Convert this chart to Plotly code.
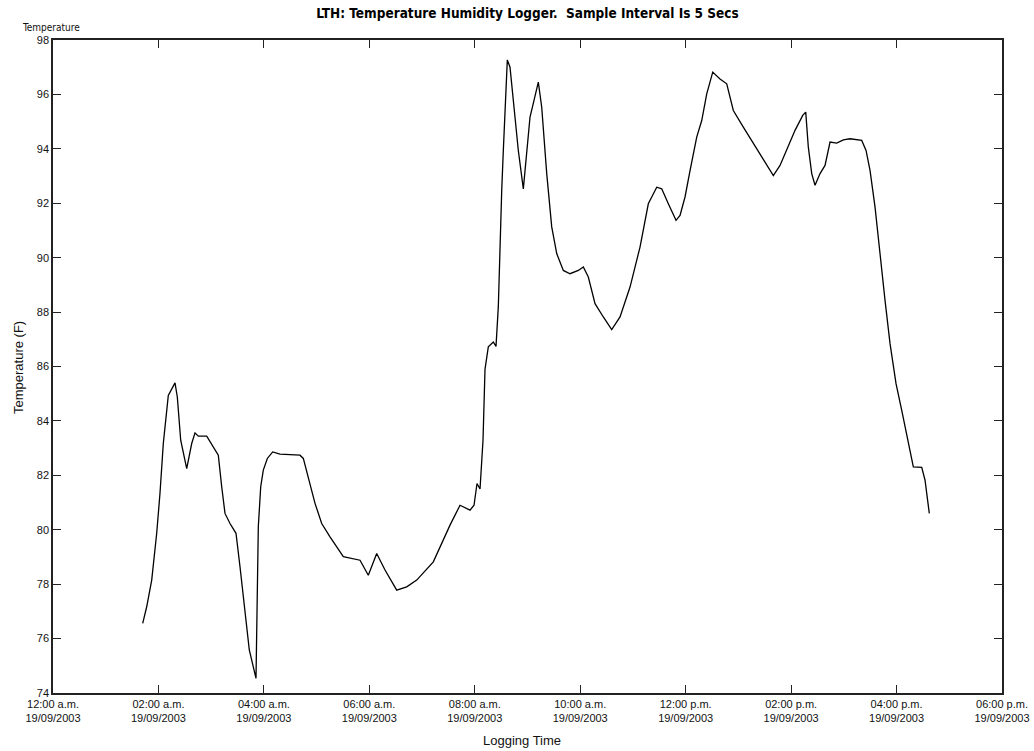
import plotly.graph_objects as go

# Logger readings for 19/09/2003
log_date = "2003-09-19"
log_times = [
    "01:42:05", "01:46:38", "01:52:20", "01:58:01", "02:01:47", "02:05:32", "02:11:13", "02:15:05",
    "02:18:51", "02:21:28", "02:25:20", "02:32:10", "02:37:51", "02:41:37", "02:45:22", "02:54:56",
    "03:02:26", "03:08:08", "03:12:00", "03:15:45", "03:21:27", "03:28:16", "03:32:49", "03:38:31",
    "03:43:24", "03:51:02", "03:52:10", "03:53:39", "03:56:23", "03:59:20", "04:03:54", "04:10:02",
    "04:18:21", "04:41:06", "04:44:52", "04:52:29", "04:58:11", "05:05:48", "05:15:15", "05:30:23",
    "05:49:24", "05:58:50", "06:08:24", "06:17:51", "06:31:10", "06:42:32", "06:53:55", "07:12:49",
    "07:31:49", "07:43:12", "07:54:35", "07:59:08", "08:02:33", "08:05:58", "08:09:23", "08:11:39",
    "08:15:24", "08:21:06", "08:24:10", "08:26:47", "08:28:43", "08:30:40", "08:32:29", "08:34:25",
    "08:37:02", "08:40:06", "08:43:52", "08:49:33", "08:55:15", "08:59:07", "09:02:52", "09:07:25",
    "09:12:19", "09:16:11", "09:21:53", "09:27:34", "09:33:15", "09:40:46", "09:48:24", "09:57:50",
    "10:03:32", "10:09:13", "10:16:51", "10:26:18", "10:35:51", "10:45:18", "10:56:41", "11:08:03",
    "11:17:30", "11:27:04", "11:32:45", "11:40:16", "11:49:02", "11:53:35", "11:59:16", "12:04:58",
    "12:12:35", "12:18:17", "12:23:58", "12:30:48", "12:39:06", "12:46:44", "12:54:14", "13:05:37",
    "13:15:11", "13:24:38", "13:34:04", "13:39:46", "13:47:23", "13:55:01", "14:04:28", "14:13:13",
    "14:16:38", "14:19:36", "14:23:28", "14:27:13", "14:32:55", "14:38:36", "14:44:18", "14:51:55",
    "14:59:26", "15:07:03", "15:14:41", "15:20:22", "15:25:16", "15:29:49", "15:35:31", "15:41:12",
    "15:46:53", "15:52:35", "15:59:24", "16:05:54", "16:13:25", "16:19:06", "16:28:39", "16:32:25",
    "16:37:17",
]
temperature_f = [
    76.56, 77.17, 78.15, 79.87, 81.35, 83.17, 84.94, 85.19,
    85.40, 84.88, 83.29, 82.25, 83.17, 83.56, 83.44, 83.44,
    83.05, 82.74, 81.58, 80.60, 80.23, 79.87, 78.64, 76.93,
    75.58, 74.54, 76.44, 80.11, 81.58, 82.19, 82.62, 82.86,
    82.78, 82.74, 82.62, 81.70, 80.97, 80.23, 79.74, 79.01,
    78.88, 78.33, 79.13, 78.52, 77.78, 77.90, 78.15, 78.82,
    80.17, 80.90, 80.72, 80.90, 81.70, 81.50, 83.30, 85.90,
    86.72, 86.90, 86.74, 88.19, 90.64, 92.47, 93.94, 95.53,
    97.27, 97.00, 95.78, 93.94, 92.53, 93.94, 95.17, 95.78,
    96.45, 95.53, 93.09, 91.13, 90.15, 89.53, 89.41, 89.53,
    89.66, 89.29, 88.31, 87.82, 87.36, 87.82, 88.92, 90.39,
    91.98, 92.59, 92.53, 91.98, 91.37, 91.55, 92.23, 93.20,
    94.43, 95.04, 96.02, 96.82, 96.57, 96.39, 95.41, 94.80,
    94.31, 93.82, 93.33, 93.02, 93.39, 93.94, 94.68, 95.23,
    95.35, 94.06, 93.09, 92.66, 93.09, 93.39, 94.25, 94.21,
    94.33, 94.37, 94.33, 94.31, 93.94, 93.21, 91.86, 90.02,
    88.43, 86.84, 85.37, 84.39, 83.17, 82.31, 82.29, 81.82,
    80.60,
]

# Axis ticks
x_tick_hours = ["00:00", "02:00", "04:00", "06:00", "08:00", "10:00", "12:00", "14:00", "16:00", "18:00"]
x_tick_labels = ["12:00 a.m.", "02:00 a.m.", "04:00 a.m.", "06:00 a.m.", "08:00 a.m.",
                 "10:00 a.m.", "12:00 p.m.", "02:00 p.m.", "04:00 p.m.", "06:00 p.m."]
tick_date_label = "19/09/2003"
y_ticks = [74, 76, 78, 80, 82, 84, 86, 88, 90, 92, 94, 96, 98]

x_values = [f"{log_date} {t}" for t in log_times]
x_tickvals = [f"{log_date} {t}:00" for t in x_tick_hours]
x_ticktext = [f"{lbl}<br>{tick_date_label}" for lbl in x_tick_labels]

label_font = "Liberation Sans, Arial, sans-serif"
narrow_font = "Liberation Sans Narrow, DejaVu Sans Condensed, Arial Narrow, sans-serif"

fig = go.Figure()
fig.add_trace(go.Scatter(
    x=x_values, y=temperature_f, mode="lines",
    line=dict(color="#000000", width=1.3),
    hoverinfo="x+y", showlegend=False,
))

axis_common = dict(
    showgrid=False, zeroline=False, automargin=False,
    showline=True, linecolor="#222222", linewidth=1.5,
    mirror="ticks", ticks="inside", ticklen=8, tickwidth=1, tickcolor="#222222",
)

fig.update_layout(
    width=1034, height=751,
    margin=dict(l=53, r=32, t=40, b=58),
    paper_bgcolor="white", plot_bgcolor="white",
    font=dict(family=label_font, size=11, color="#111111"),
    title=dict(
        text="<b>LTH: Temperature Humidity Logger.  Sample Interval Is 5 Secs</b>",
        font=dict(family=narrow_font, size=13.5, color="#000000"),
        x=0.5, xref="paper", xanchor="center",
        y=1 - 13 / 751, yref="container", yanchor="middle",
    ),
    xaxis=dict(
        **axis_common,
        type="date",
        range=[f"{log_date} 00:00:00", f"{log_date} 18:00:00"],
        tickmode="array", tickvals=x_tickvals, ticktext=x_ticktext,
        tickfont=dict(family=label_font, size=11, color="#111111"),
    ),
    yaxis=dict(
        **axis_common,
        range=[74, 98],
        tickmode="array", tickvals=y_ticks,
        tickfont=dict(family=label_font, size=11, color="#111111"),
    ),
    annotations=[
        dict(text="Temperature", xref="paper", yref="paper",
             x=(51 - 53) / 949, y=1 + 13 / 653, xanchor="center", yanchor="middle",
             showarrow=False, font=dict(family=narrow_font, size=10, color="#111111")),
        dict(text="Temperature (F)", xref="paper", yref="paper",
             x=(18 - 53) / 949, y=(693 - 368) / 653, xanchor="center", yanchor="middle",
             textangle=-90, showarrow=False,
             font=dict(family=label_font, size=13, color="#111111")),
        dict(text="Logging Time", xref="paper", yref="paper",
             x=(522 - 53) / 949, y=-(740 - 693) / 653, xanchor="center", yanchor="middle",
             showarrow=False, font=dict(family=label_font, size=13, color="#111111")),
    ],
)

fig.write_html("out.html")
